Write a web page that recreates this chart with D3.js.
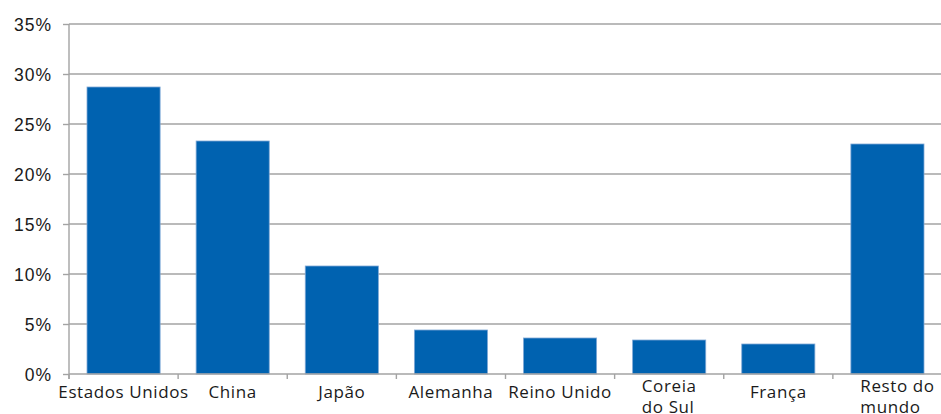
<!DOCTYPE html>
<html>
<head>
  <meta charset="utf-8">
  <title>Participação por país</title>
  <style type="text/css">
    body { margin: 0; background: #fff; }
    svg { display: block; }
    .ylab { font-family: "Liberation Sans", Arial, sans-serif; font-size: 17.5px; letter-spacing: 1px; fill: #1a1a1a; }
    .xlab { font-family: "Open Sans", sans-serif; font-size: 17px; letter-spacing: 0.6px; fill: #1a1a1a; }
  </style>
</head>
<body>
  <script type="text/javascript" src="https://cdn.jsdelivr.net/npm/d3@7/dist/d3.min.js"></script>
  <script type="text/javascript">
    // data
    var paises = ["Estados Unidos", "China", "Japão", "Alemanha", "Reino Unido", "Coreia do Sul", "França", "Resto do mundo"];
    var rotulos = [["Estados Unidos"], ["China"], ["Japão"], ["Alemanha"], ["Reino Unido"], ["Coreia", "do Sul"], ["França"], ["Resto do", "mundo"]];
    var valores = [0.287, 0.233, 0.108, 0.044, 0.036, 0.034, 0.030, 0.230];
    var yTicks = [0, 0.05, 0.10, 0.15, 0.20, 0.25, 0.30, 0.35];

    var w = 941, h = 414;
    var mLeft = 69, mRight = 942, mTop = 24, mBottom = 374;

    var svg = d3.select("body").append("svg")
      .attr("width", w)
      .attr("height", h);

    var x = d3.scaleBand()
      .domain(paises)
      .range([mLeft, mRight])
      .paddingInner(0.33)
      .paddingOuter(0.165);

    var y = d3.scaleLinear()
      .domain([0, 0.35])
      .range([mBottom, mTop]);

    // gridlines
    svg.append("g").selectAll("line")
      .data(yTicks.slice(1))
      .enter().append("line")
      .attr("x1", mLeft).attr("x2", w)
      .attr("y1", d => y(d)).attr("y2", d => y(d))
      .attr("stroke", "#a3a3a3")
      .attr("stroke-width", 1.4);

    // y axis
    var yAxis = d3.axisLeft(y)
      .tickValues(yTicks)
      .tickFormat(d3.format(".0%"))
      .tickSize(6)
      .tickPadding(11);
    var gy = svg.append("g").attr("transform", "translate(" + mLeft + ",0)").call(yAxis);
    gy.select(".domain").remove();
    gy.selectAll(".tick line").attr("stroke", "#a3a3a3").attr("stroke-width", 1.4);
    gy.selectAll("text").attr("class", "ylab").attr("fill", null).attr("dy", "0.36em");
    gy.append("line")
      .attr("x1", 0).attr("x2", 0)
      .attr("y1", mTop).attr("y2", mBottom + 5)
      .attr("stroke", "#a3a3a3").attr("stroke-width", 1.4);

    // bars
    svg.append("g").selectAll("rect")
      .data(valores)
      .enter().append("rect")
      .attr("x", (d, i) => x(paises[i]))
      .attr("width", x.bandwidth())
      .attr("y", d => y(d))
      .attr("height", d => y(0) - y(d))
      .attr("fill", "#0062b0")
      .attr("stroke", "#7fa8d6")
      .attr("stroke-width", 0.8);

    // x axis line and category ticks
    svg.append("line")
      .attr("x1", mLeft).attr("x2", w)
      .attr("y1", mBottom).attr("y2", mBottom)
      .attr("stroke", "#a3a3a3").attr("stroke-width", 1.4);

    var step = x.step();
    svg.append("g").selectAll("line")
      .data(paises)
      .enter().append("line")
      .attr("x1", d => x(d) - x.paddingInner() * step / 2)
      .attr("x2", d => x(d) - x.paddingInner() * step / 2)
      .attr("y1", mBottom).attr("y2", mBottom + 5)
      .attr("stroke", "#a3a3a3").attr("stroke-width", 1.4);

    // category labels
    var lab = svg.append("g").selectAll("text")
      .data(paises)
      .enter().append("text")
      .attr("class", "xlab")
      .attr("transform", (d, i) => {
        var cx = x(d) + x.bandwidth() / 2;
        return "translate(" + cx + ",398)";
      })
      .attr("text-anchor", "middle");

    lab.each(function(d, i) {
      var t = d3.select(this);
      var linhas = rotulos[i];
      if (linhas.length === 1) {
        t.text(linhas[0]);
      } else {
        // multi-line labels are left aligned on the widest line
        t.attr("text-anchor", "start");
        linhas.forEach((l, k) => {
          t.append("tspan").attr("x", 0).attr("dy", k === 0 ? 0 : 21).text(l);
        });
        var bw = this.getBBox().width;
        var cx = x(d) + x.bandwidth() / 2;
        var shift = i === paises.length - 1 ? 10 : 0;
        t.attr("transform", "translate(" + (cx - bw / 2 + shift) + ",392)");
      }
    });
  </script>
</body>
</html>
